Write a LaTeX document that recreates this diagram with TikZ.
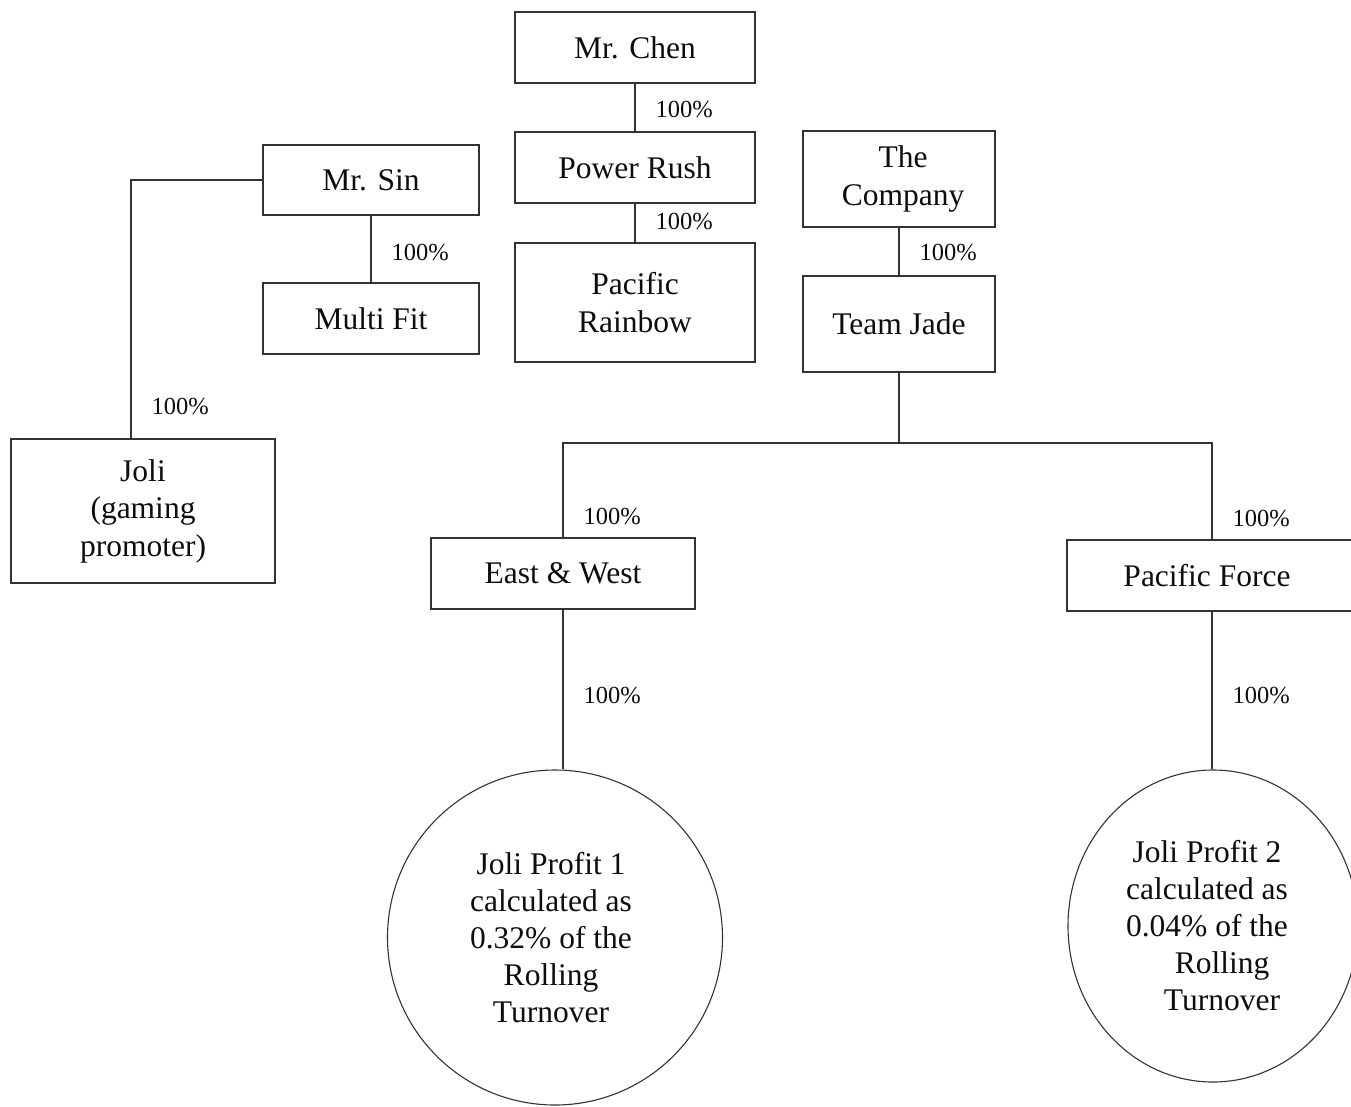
\documentclass[tikz,border=0pt]{standalone}
\usepackage{fontspec}
\setmainfont{Liberation Serif}
\usetikzlibrary{shapes.geometric}
\begin{document}
\begin{tikzpicture}[x=1pt,y=-1pt,
  line width=1.2pt,
  conn/.style={draw=black!80, line width=1.2pt},
  entbox/.style={draw=black!80, line width=1.2pt, rectangle, inner sep=0pt, align=center,
     font=\fontsize{31.5}{37.5}\selectfont, text=black!95},
  entcirc/.style={draw=black!80, line width=1.1pt, ellipse, inner sep=0pt, align=center,
     font=\fontsize{31}{37}\selectfont, text=black!95},
  ctext/.style={align=center, font=\fontsize{31.5}{37}\selectfont, text=black!95},
  pct/.style={font=\fontsize{24.5}{28}\selectfont, text=black!95, inner sep=0pt, anchor=west}]
\useasboundingbox (0,0) rectangle (1351,1106);
\clip (0,0) rectangle (1351,1106);
\fill[white] (0,0) rectangle (1351,1106);

% boxes
\node[entbox, minimum width=240, minimum height=71] (chen) at (635,47.5) {Mr. Chen};
\node[entbox, minimum width=240, minimum height=71] (power) at (635,167.5) {Power Rush};
\node[entbox, minimum width=240, minimum height=119] (rainbow) at (635,302.5) {Pacific\\Rainbow};
\node[entbox, minimum width=216, minimum height=70] (sin) at (371,180) {Mr. Sin};
\node[entbox, minimum width=216, minimum height=71] (multi) at (371,318.5) {Multi Fit};
\node[entbox, minimum width=264, minimum height=144] (joli) at (143,511) {Joli\\(gaming\\promoter)};
\node[entbox, minimum width=192, minimum height=96] (company) at (899,179) {\raisebox{-3pt}{\begin{tabular}{@{}c@{}}\hspace*{8pt}The\\\hspace*{8pt}Company\end{tabular}}};
\node[entbox, minimum width=192, minimum height=96] (jade) at (899,324) {Team Jade};
\node[entbox, minimum width=264, minimum height=71] (ew) at (563,573.5) {East \& West};
\node[entbox, minimum width=290, minimum height=71] (pf) at (1212,575.5) {\hspace*{-10pt}Pacific Force};

% circles
\node[entcirc, minimum width=335, minimum height=335] (p1) at (555,937.5) {};
\node[ctext] (p1t) at (551,938) {Joli Profit 1\\calculated as\\0.32\% of the\\Rolling\\Turnover};
\node[entcirc, minimum width=290, minimum height=312] (p2) at (1213,926) {};
\node[ctext] (p2t) at (1207,926) {Joli Profit 2\\calculated as\\0.04\% of the\\\hspace*{30pt}Rolling\\\hspace*{30pt}Turnover};

% connectors
\draw[conn] (chen.south) -- (power.north);
\draw[conn] (power.south) -- (rainbow.north);
\draw[conn] (sin.south) -- (multi.north);
\coordinate (sinbend) at (131,180);
\draw[conn] (sin.west) -- (sinbend) -- (sinbend |- joli.north);
\draw[conn] (company.south) -- (jade.north);
\coordinate (jj) at (899,443);
\draw[conn] (jade.south) -- (jj);
\draw[conn] (ew.north) -- (ew.north |- jj) -- (pf.north |- jj) -- (pf.north);
\draw[conn] (ew.south) -- (ew.south |- p1.north);
\draw[conn] (pf.south) -- (pf.south |- p2.north);

% labels
\node[pct] (l1) at (655,110) {100\%};
\node[pct] (l2) at (655,222) {100\%};
\node[pct] (l3) at (391,253) {100\%};
\node[pct] (l4) at (151,407) {100\%};
\node[pct] (l5) at (919,253) {100\%};
\node[pct] (l6) at (583,517) {100\%};
\node[pct] (l7) at (1232,519) {100\%};
\node[pct] (l8) at (583,696) {100\%};
\node[pct] (l9) at (1232,696) {100\%};
\end{tikzpicture}
\end{document}
